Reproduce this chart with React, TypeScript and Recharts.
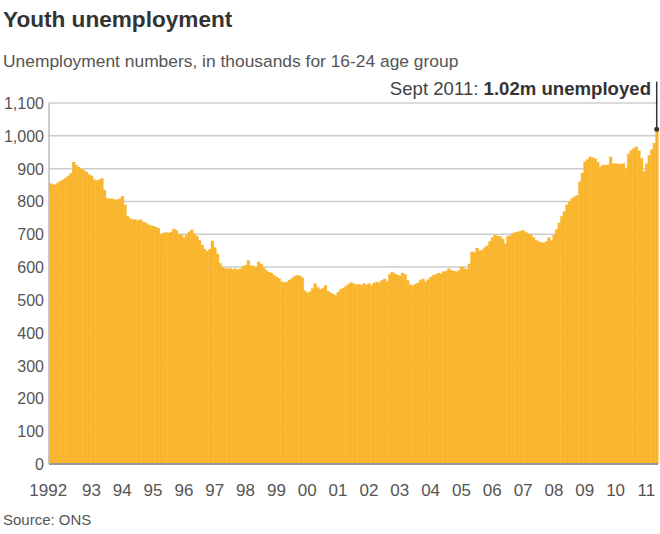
import React from "react";
import { BarChart, Bar, XAxis, YAxis, CartesianGrid, ReferenceLine, ReferenceDot } from "recharts";

// Monthly youth unemployment (thousands), Jan 1992 – Sep 2011
const y1992 = [855, 852, 851, 858, 862, 866, 872, 878, 886, 920, 911, 905];
const y1993 = [900, 895, 890, 882, 878, 866, 864, 866, 870, 835, 810, 808];
const y1994 = [808, 806, 805, 808, 816, 790, 755, 748, 745, 745, 742, 745];
const y1995 = [738, 735, 730, 727, 725, 722, 718, 700, 704, 706, 704, 707];
const y1996 = [716, 712, 700, 698, 690, 700, 708, 714, 702, 695, 682, 668];
const y1997 = [655, 648, 655, 680, 660, 640, 612, 600, 596, 595, 596, 593];
const y1998 = [595, 592, 595, 603, 606, 620, 605, 603, 600, 616, 610, 598];
const y1999 = [590, 585, 582, 575, 570, 565, 556, 552, 555, 560, 566, 572];
const y2000 = [575, 574, 568, 528, 522, 525, 535, 550, 538, 532, 536, 544];
const y2001 = [527, 522, 518, 514, 524, 532, 536, 542, 548, 553, 550, 546];
const y2002 = [548, 545, 550, 546, 550, 545, 552, 555, 553, 560, 564, 556];
const y2003 = [578, 585, 580, 576, 574, 582, 578, 560, 546, 544, 548, 552];
const y2004 = [560, 564, 556, 562, 570, 575, 578, 582, 580, 586, 588, 595];
const y2005 = [590, 588, 586, 590, 601, 596, 594, 610, 647, 645, 658, 650];
const y2006 = [652, 660, 665, 678, 690, 698, 695, 694, 686, 672, 694, 696];
const y2007 = [703, 706, 708, 710, 712, 706, 702, 698, 690, 682, 678, 676];
const y2008 = [674, 678, 690, 682, 698, 715, 735, 755, 770, 790, 800, 810];
const y2009 = [815, 818, 860, 887, 922, 928, 936, 934, 930, 920, 906, 911];
const y2010 = [911, 912, 936, 916, 916, 915, 914, 916, 900, 945, 955, 962];
const y2011 = [967, 955, 932, 891, 915, 940, 958, 978, 1020];

const years = [1992, 1993, 1994, 1995, 1996, 1997, 1998, 1999, 2000, 2001, 2002, 2003, 2004, 2005, 2006, 2007, 2008, 2009, 2010, 2011];
const yearValues = [y1992, y1993, y1994, y1995, y1996, y1997, y1998, y1999, y2000, y2001, y2002, y2003, y2004, y2005, y2006, y2007, y2008, y2009, y2010, y2011];
const xTickLabels = ["1992", "93", "94", "95", "96", "97", "98", "99", "00", "01", "02", "03", "04", "05", "06", "07", "08", "09", "10", "11"];
const yTicks = [0, 100, 200, 300, 400, 500, 600, 700, 800, 900, 1000, 1100];

const data = yearValues.flatMap((vals, yi) =>
  vals.map((v, mi) => ({ month: `${years[yi]}-${mi + 1}`, value: v }))
);

const tickKeys = xTickLabels.map((_, k) => data[k === 0 ? 0 : k * 12 + 4].month);
const labelByKey: Record<string, string> = {};
tickKeys.forEach((key, k) => {
  labelByKey[key] = xTickLabels[k];
});
const last = data[data.length - 1];

const FONT = '"Liberation Sans", Arial, Helvetica, sans-serif';

const XTick = (props: any) => {
  const { x, y, payload } = props;
  const label = labelByKey[payload.value] ?? "";
  const dx = label === "1992" ? -2 : 0;
  return (
    <text x={x + dx} y={y + 32} textAnchor="middle" fontSize={17} fill="#555" fontFamily={FONT}>
      {label}
    </text>
  );
};

const YTick = (props: any) => {
  const { x, y, payload } = props;
  return (
    <text x={x - 5} y={y + 6} textAnchor="end" fontSize={16} fill="#555" fontFamily={FONT}>
      {Number(payload.value).toLocaleString("en-US")}
    </text>
  );
};

export default function App() {
  return (
    <div
      style={{
        position: "absolute",
        left: 0,
        top: 0,
        width: 660,
        height: 534,
        background: "#fff",
        fontFamily: FONT,
        overflow: "hidden",
      }}
    >
      <div style={{ position: "absolute", left: 3, top: 9, fontSize: 22.6, lineHeight: "22px", fontWeight: "bold", color: "#333", whiteSpace: "nowrap" }}>
        Youth unemployment
      </div>
      <div style={{ position: "absolute", left: 3, top: 53, fontSize: 17.4, lineHeight: "17px", color: "#555", whiteSpace: "nowrap" }}>
        Unemployment numbers, in thousands for 16-24 age group
      </div>
      <div style={{ position: "absolute", right: 9, top: 80, fontSize: 18.6, lineHeight: "18px", color: "#444", whiteSpace: "nowrap", textAlign: "right" }}>
        Sept 2011: <span style={{ fontWeight: "bold", color: "#333" }}>1.02m unemployed</span>
      </div>
      <div style={{ position: "absolute", left: 3, top: 512, fontSize: 15, lineHeight: "15px", color: "#555", whiteSpace: "nowrap" }}>
        Source: ONS
      </div>
      <div style={{ position: "absolute", left: 0, top: 0 }}>
        <BarChart
          width={660}
          height={534}
          data={data}
          margin={{ top: 103, right: 2, bottom: 40, left: 0 }}
          barCategoryGap={0}
        >
          <CartesianGrid vertical={false} stroke="#cccccc" strokeWidth={1.5} />
          <XAxis
            dataKey="month"
            ticks={tickKeys}
            interval={0}
            tick={<XTick />}
            tickLine={false}
            tickSize={0}
            tickMargin={0}
            height={30}
            axisLine={{ stroke: "#999", strokeWidth: 2 }}
          />
          <YAxis
            domain={[0, 1100]}
            ticks={yTicks}
            width={49}
            tick={<YTick />}
            tickLine={false}
            tickSize={0}
            tickMargin={0}
            axisLine={{ stroke: "#bbb", strokeWidth: 1.5 }}
            allowDataOverflow
          />
          <Bar dataKey="value" fill="#F9B42A" stroke="#FCC651" strokeWidth={0.3} isAnimationActive={false} />
          <ReferenceLine
            segment={[
              { x: last.month, y: last.value },
              { x: last.month, y: 1165 },
            ]}
            stroke="#333"
            strokeWidth={1.5}
            ifOverflow="visible"
          />
          <ReferenceDot x={last.month} y={last.value} r={2.5} fill="#333" stroke="none" ifOverflow="visible" />
        </BarChart>
      </div>
    </div>
  );
}
